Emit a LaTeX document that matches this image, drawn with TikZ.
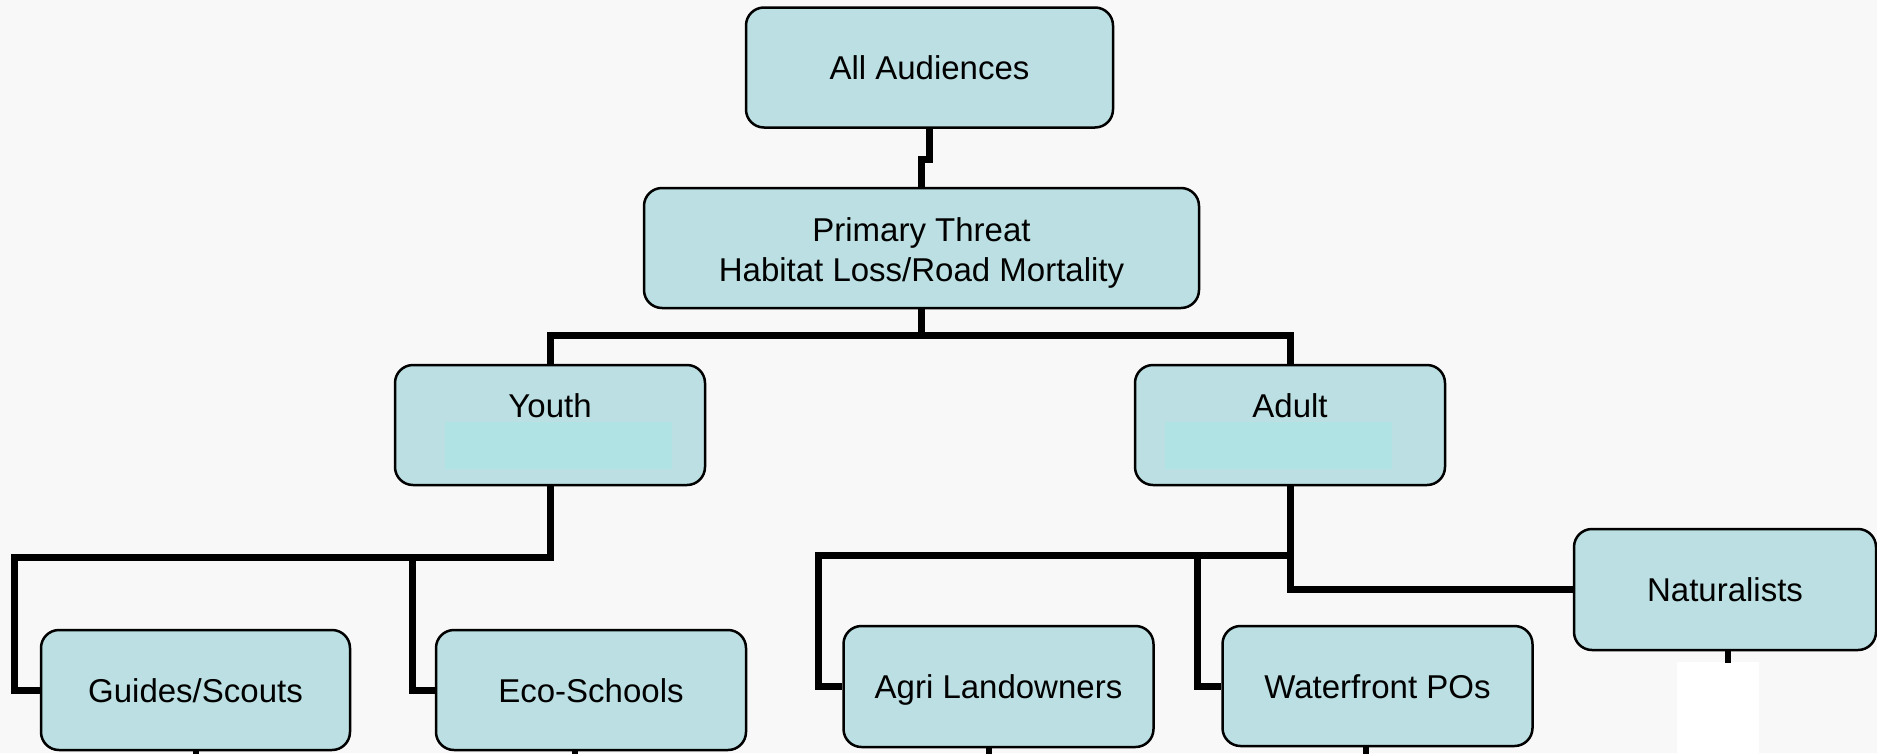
\documentclass[tikz,border=0pt]{standalone}
\usepackage{fontspec}
\setmainfont{Liberation Sans}
\definecolor{bg}{HTML}{F8F8F8}
\definecolor{boxfill}{HTML}{BBDFE2}
\definecolor{innerfill}{HTML}{B0E4E4}
\begin{document}
\begin{tikzpicture}[x=1pt,y=-1pt,
  box/.style={draw=black, line width=2.5pt, fill=boxfill, rounded corners=18pt,
    minimum height=120pt, inner sep=0pt, text height=24pt, text depth=0pt,
    font=\fontsize{33}{40}\selectfont},
  conn/.style={line width=7pt, draw=black},
  stub/.style={line width=6pt, draw=black},
  innerrect/.style={fill=innerfill}]
\fill[bg] (0,0) rectangle (1877,753);
\useasboundingbox (0,0) rectangle (1877,753);
% nodes
\node[box, minimum width=367pt] (aa) at (929.5,67.5) {All Audiences};
\node[box, minimum width=555pt, align=center, text height=66pt, text depth=0pt] (pt) at (921.5,248) {Primary Threat\\Habitat Loss/Road Mortality};
\node[box, minimum width=310pt, text depth=39pt] (youth) at (550,425) {Youth};
\node[box, minimum width=310pt, text depth=39pt] (adult) at (1290,425) {Adult};
\node[box, minimum width=309pt] (guides) at (195.5,690) {Guides/Scouts};
\node[box, minimum width=310pt] (eco) at (591,690) {Eco-Schools};
\node[box, minimum width=310pt, minimum height=121pt] (agri) at (998.5,686.5) {Agri Landowners};
\node[box, minimum width=310pt] (wf) at (1377.5,686) {Waterfront POs};
\node[box, minimum width=302pt, minimum height=121pt] (nat) at (1725,589.5) {Naturalists};
% inner lighter panels
\fill[innerrect] (445,422) rectangle (672,469);
\fill[innerrect] (1165,422) rectangle (1392,469);
% bend points
\coordinate (jog) at (929.5,159);
\coordinate (ybus) at (14,557);
\coordinate (ecob) at (412,557);
\coordinate (abus) at (818,555);
\coordinate (wfb) at (1197,555);
% connectors
\draw[conn] (aa.south) -- (jog) -| (pt.north);
\draw[conn] (pt.south) -- (pt.south |- 0,335);
\draw[conn] (youth.north) -- (youth.north |- 0,335) -- (adult.north |- 0,335) -- (adult.north);
\draw[conn] (youth.south) |- (ybus) |- (guides.west);
\draw[conn] (ecob) |- (eco.west);
\draw[conn] (adult.south) |- (nat.west);
\draw[conn] (adult.south |- abus) -- (abus) |- (agri.west);
\draw[conn] (wfb) |- (wf.west);
% stubs toward lower levels
\fill[white] (1677,662) rectangle (1759,753);
\draw[stub] (guides.south) -- ++(0,12);
\draw[stub] ([xshift=-16pt]eco.south) -- ++(0,12);
\draw[stub] ([xshift=-10pt]agri.south) -- ++(0,12);
\draw[stub] ([xshift=-12pt]wf.south) -- ++(0,12);
\draw[stub] ([xshift=3pt]nat.south) -- ++(0,12);
\end{tikzpicture}
\end{document}
